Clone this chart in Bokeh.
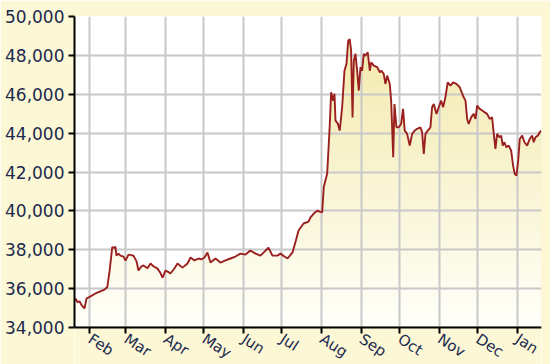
import numpy as np
import pandas as pd
from bokeh.plotting import figure
from bokeh.models import (Range1d, FixedTicker, NumeralTickFormatter, MonthsTicker,
                          DatetimeTickFormatter)
from bokeh.embed import file_html
from bokeh.resources import INLINE

# ---- data ----
start_date = "2019-01-20"
end_date = "2020-01-20"

# days since start_date
day = [0.8, 2.3, 3.9, 5.5, 7.8, 9.4, 12.5, 16.4, 21.6, 23.4, 25.6, 27.4, 29.5, 30.5,
       32.0, 32.8, 34.4, 35.9, 38.3, 39.9, 42.2, 44.5, 46.1, 48.5, 50.0, 52.4, 53.9,
       57.0, 59.4, 61.7, 64.9, 67.2, 68.8, 71.1, 73.5, 75.0, 78.2, 80.5, 84.4, 88.3,
       90.7, 93.8, 96.9, 99.2, 101.6, 103.9, 106.3, 110.2, 114.1, 118.0, 121.9, 125.8,
       129.7, 133.6, 137.5, 141.5, 145.4, 148.5, 151.6, 154.7, 158.6, 161.0, 164.1,
       166.5, 170.4, 172.7, 175.1, 179.0, 182.9, 184.4, 187.6, 189.9, 191.9, 193.6,
       194.8, 197.5, 199.3, 200.6, 202.2, 203.2, 204.0, 205.8, 207.3, 209.2, 211.0,
       212.6, 213.9, 215.1, 216.2, 217.3, 218.3, 219.6, 220.9, 222.2, 223.5, 224.8,
       226.1, 227.4, 229.2, 230.8, 231.9, 233.9, 236.6, 238.6, 239.9, 241.7, 243.0,
       244.4, 246.4, 247.5, 249.1, 250.1, 251.6, 253.4, 255.3, 256.8, 258.1, 260.0,
       262.0, 263.9, 265.9, 267.8, 270.4, 271.7, 273.0, 274.3, 276.1, 278.2, 279.5,
       280.8, 282.9, 284.7, 286.6, 288.1, 289.9, 291.7, 293.8, 295.9, 298.5, 301.1,
       303.8, 305.6, 306.9, 308.1, 310.0, 312.0, 313.4, 314.7, 316.7, 318.6, 320.6,
       322.5, 324.5, 326.4, 327.7, 329.0, 330.3, 332.1, 333.5, 334.7, 336.0, 337.6,
       339.4, 341.3, 342.8, 344.1, 345.4, 346.8, 348.0, 349.9, 351.7, 353.8, 355.8,
       357.7, 358.9, 360.3, 362.1, 363.6, 364.7]

price = [35490, 35300, 35350, 35150, 34980, 35490, 35600, 35750, 35900, 35950, 36070,
         36900, 38130, 38100, 38150, 37700, 37800, 37700, 37650, 37440, 37750, 37720,
         37700, 37400, 36930, 37150, 37190, 37050, 37290, 37150, 37030, 36800, 36570,
         36930, 36850, 36780, 37050, 37290, 37080, 37290, 37600, 37450, 37550, 37500,
         37600, 37860, 37340, 37550, 37340, 37450, 37550, 37650, 37800, 37750, 37960,
         37800, 37700, 37900, 38110, 37700, 37700, 37800, 37650, 37550, 37860, 38400,
         38990, 39350, 39450, 39660, 39900, 40010, 39950, 39930, 41210, 41920, 44130,
         46100, 45670, 46030, 44640, 44490, 44130, 45330, 47210, 47570, 48750, 48840,
         48240, 44810, 47730, 48080, 47210, 46190, 47390, 47210, 48080, 47980, 48160,
         47210, 47640, 47470, 47390, 47130, 47210, 47050, 46530, 46960, 46530, 45670,
         42760, 45500, 44300, 44300, 44470, 45250, 44130, 43960, 43360, 43960, 44130,
         44220, 44300, 44040, 42930, 43960, 44130, 44300, 45330, 45500, 44990, 45330,
         45670, 45330, 45840, 46610, 46440, 46610, 46530, 46360, 45900, 45670, 44730,
         44470, 44810, 44990, 44730, 45410, 45250, 45160, 45070, 44990, 44730, 44810,
         43960, 43190, 43960, 43790, 43870, 43360, 43530, 43270, 43360, 43100, 42330,
         41900, 41810, 42590, 43700, 43870, 43530, 43360, 43700, 43870, 43530, 43790,
         43870, 44040, 44130]

y_ticks = [34000, 36000, 38000, 40000, 42000, 44000, 46000, 48000, 50000]

# ---- layout (pixels) ----
W, H = 550, 364
left_px, right_px, top_px, below_px = 74, 9, 16, 37   # below_px: room under the x axis
frame_h = H - top_px                                    # frame reaches figure bottom
plot_h = frame_h - below_px                             # height of the 34k..50k span
y_lo = y_ticks[0] - (y_ticks[-1] - y_ticks[0]) * below_px / plot_h

border_col = "#FCF8D6"
label_color = "#1c2a4e"

dates = pd.Timestamp(start_date) + pd.to_timedelta(day, unit="D")
price_arr = np.array(price, dtype=float)
x0, x1 = pd.Timestamp(start_date), pd.Timestamp(end_date)

p = figure(width=W, height=H, x_axis_type="datetime",
           x_range=Range1d(x0, x1), y_range=Range1d(y_lo, y_ticks[-1]),
           output_backend="svg", toolbar_location=None,
           min_border_left=left_px, min_border_right=right_px,
           min_border_top=top_px, min_border_bottom=0)

p.background_fill_color = "white"
p.border_fill_color = border_col
p.outline_line_color = None

# gradient fill under curve (stacked overlapping bands)
levels = np.linspace(y_ticks[0], y_ticks[-1], 41)
base = y_ticks[0]
for k in range(len(levels) - 1, 0, -1):
    top = levels[k]
    mid = (levels[k] + levels[k - 1]) / 2
    t = min(max((mid - 34000) / 15000, 0), 1)
    r = int(round(255 - 12 * t))
    g = int(round(255 - 22 * t))
    b = int(round(250 - 78 * t))
    col = "#%02x%02x%02x" % (r, g, b)
    p.varea(x=dates, y1=base, y2=np.minimum(price_arr, top), fill_color=col,
            fill_alpha=1.0, level="image")

# strip under the x axis painted like the border
p.quad(left=[x0], right=[x1], top=[y_ticks[0]], bottom=[y_lo],
       fill_color=border_col, line_color=None)

p.line(x=dates, y=price_arr, line_color="#9A1F1F", line_width=1.9)

# axes
xax = p.xaxis[0]
yax = p.yaxis[0]
xax.fixed_location = y_ticks[0]
xax.ticker = MonthsTicker(months=list(range(12)))
xax.formatter = DatetimeTickFormatter(months="%b", days="%b", years="%b")
yax.ticker = FixedTicker(ticks=y_ticks)
yax.formatter = NumeralTickFormatter(format="0,0")
yax.bounds = (y_ticks[0], y_ticks[-1])

for ax in (xax, yax):
    ax.axis_line_color = "black"
    ax.axis_line_width = 2
    ax.major_tick_line_color = "black"
    ax.major_tick_line_width = 2
    ax.major_tick_out = 6
    ax.major_tick_in = 0
    ax.minor_tick_line_color = None
    ax.major_label_text_color = label_color
    ax.major_label_text_font = "DejaVu Sans"

yax.major_label_text_font_size = "17px"
yax.major_label_standoff = 4
xax.major_label_text_font_size = "15px"
xax.major_label_orientation = -0.58
xax.major_label_standoff = 4

p.xgrid.ticker = MonthsTicker(months=list(range(12)))
p.ygrid.ticker = FixedTicker(ticks=y_ticks)
for g in (p.xgrid[0], p.ygrid[0]):
    g.grid_line_color = "#C8C8C8"
    g.grid_line_width = 2

open("out.html", "w").write(file_html(p, INLINE))
